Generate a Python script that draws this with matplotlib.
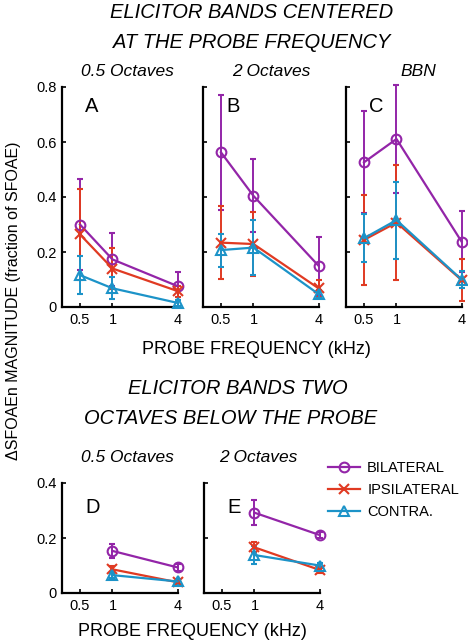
import matplotlib
matplotlib.use("Agg")
import matplotlib.pyplot as plt
from matplotlib.lines import Line2D

plt.rcParams['font.family'] = ['Liberation Sans', 'DejaVu Sans']

freqs = [0.5, 1, 4]
freqs_below = [1, 4]
series = ["BILATERAL", "IPSILATERAL", "CONTRA."]

# top row: elicitor bands centred at the probe frequency
a_bil = [0.30, 0.173, 0.076]
a_bil_err = [0.165, 0.095, 0.05]
a_ips = [0.264, 0.14, 0.058]
a_ips_err = [0.165, 0.076, 0.02]
a_con = [0.116, 0.068, 0.015]
a_con_err = [0.068, 0.04, 0.01]

b_bil = [0.5625, 0.404, 0.15]
b_bil_err = [0.21, 0.133, 0.106]
b_ips = [0.234, 0.229, 0.068]
b_ips_err = [0.133, 0.115, 0.03]
b_con = [0.207, 0.216, 0.047]
b_con_err = [0.06, 0.10, 0.015]

c_bil = [0.526, 0.611, 0.238]
c_bil_err = [0.185, 0.196, 0.112]
c_ips = [0.244, 0.307, 0.098]
c_ips_err = [0.165, 0.21, 0.077]
c_con = [0.25, 0.316, 0.10]
c_con_err = [0.088, 0.14, 0.03]

# bottom row: elicitor bands two octaves below the probe
d_bil = [0.153, 0.093]
d_bil_err = [0.027, 0.012]
d_ips = [0.086, 0.039]
d_ips_err = [0.012, 0.008]
d_con = [0.065, 0.042]
d_con_err = [0.01, 0.01]

e_bil = [0.292, 0.211]
e_bil_err = [0.046, 0.01]
e_ips = [0.166, 0.084]
e_ips_err = [0.018, 0.01]
e_con = [0.138, 0.10]
e_con_err = [0.032, 0.01]

colors = ['#9325a8', '#e03a22', '#1c93c8']
markers = ['o', 'x', '^']

fig = plt.figure(figsize=(4.68, 6.42), dpi=100)

W, H = 468, 642


def make_ax(left_px, top_px, h_px, ymax, ticks):
    ax = fig.add_axes([left_px / W, 1 - (top_px + h_px) / H, 116 / W, h_px / H])
    ax.set_xscale('log', base=2)
    ax.set_xlim(0.341, 4.04)
    ax.set_ylim(0, ymax)
    ax.set_xticks(freqs)
    ax.set_xticklabels(['0.5', '1', '4'])
    ax.minorticks_off()
    ax.set_yticks(ticks)
    for s in ['top', 'right']:
        ax.spines[s].set_visible(False)
    for s in ['left', 'bottom']:
        ax.spines[s].set_linewidth(1.6)
    ax.tick_params(direction='in', length=3, width=1.2, labelsize=10.5, pad=4)
    return ax


def draw(ax, x, vals, errs):
    for v, e, c, m in zip(vals, errs, colors, markers):
        ax.errorbar(x, v, yerr=e, color=c, marker=m, mfc='none', ms=7, mew=1.5,
                    lw=1.6, capsize=2.5, elinewidth=1.4, clip_on=False, zorder=3)


top_ticks = [0, 0.2, 0.4, 0.6, 0.8]
ax_a = make_ax(62, 87, 220, 0.8, top_ticks)
ax_b = make_ax(203, 87, 220, 0.8, top_ticks)
ax_c = make_ax(346, 87, 220, 0.8, top_ticks)
ax_a.set_yticklabels(['0', '0.2', '0.4', '0.6', '0.8'])
ax_b.set_yticklabels([])
ax_c.set_yticklabels([])

draw(ax_a, freqs, [a_bil, a_ips, a_con], [a_bil_err, a_ips_err, a_con_err])
draw(ax_b, freqs, [b_bil, b_ips, b_con], [b_bil_err, b_ips_err, b_con_err])
draw(ax_c, freqs, [c_bil, c_ips, c_con], [c_bil_err, c_ips_err, c_con_err])

bot_ticks = [0, 0.2, 0.4]
ax_d = make_ax(62, 483, 110, 0.4, bot_ticks)
ax_e = make_ax(204, 483, 110, 0.4, bot_ticks)
ax_d.set_yticklabels(['0', '0.2', '0.4'])
ax_e.set_yticklabels([])

draw(ax_d, freqs_below, [d_bil, d_ips, d_con], [d_bil_err, d_ips_err, d_con_err])
draw(ax_e, freqs_below, [e_bil, e_ips, e_con], [e_bil_err, e_ips_err, e_con_err])

for ax, letter in zip([ax_a, ax_b, ax_c, ax_d, ax_e], 'ABCDE'):
    ax.text(0.2, 0.955 if ax in (ax_a, ax_b, ax_c) else 0.86, letter,
            transform=ax.transAxes, fontsize=14.5, ha='left', va='top')

sub = dict(fontsize=12.5, style='italic', ha='center', va='center')
fig.text(127 / W, 1 - 71 / H, '0.5 Octaves', **sub)
fig.text(271 / W, 1 - 71 / H, '2 Octaves', **sub)
fig.text(418 / W, 1 - 71 / H, 'BBN', **sub)
fig.text(127 / W, 1 - 458 / H, '0.5 Octaves', **sub)
fig.text(258 / W, 1 - 458 / H, '2 Octaves', **sub)

head = dict(fontsize=14.5, style='italic', ha='center', va='center')
fig.text(252 / W, 1 - 13 / H, 'ELICITOR BANDS CENTERED', **head)
fig.text(252 / W, 1 - 42 / H, 'AT THE PROBE FREQUENCY', **head)
fig.text(238 / W, 1 - 389 / H, 'ELICITOR BANDS TWO', **head)
fig.text(231 / W, 1 - 418 / H, 'OCTAVES BELOW THE PROBE', **head)

fig.text(256 / W, 1 - 349 / H, 'PROBE FREQUENCY (kHz)', fontsize=13,
         ha='center', va='center')
fig.text(192 / W, 1 - 632 / H, 'PROBE FREQUENCY (kHz)', fontsize=13,
         ha='center', va='center')
fig.text(14 / W, 1 - 301 / H, 'ΔSFOAEn MAGNITUDE (fraction of SFOAE)',
         fontsize=11.5, rotation=90, ha='center', va='center')

handles = [Line2D([], [], color=c, marker=m, mfc='none', ms=7, mew=1.5, lw=1.6)
           for c, m in zip(colors, markers)]
fig.legend(handles, series, loc='upper left', bbox_to_anchor=(322 / W, 1 - 455 / H),
           frameon=False, fontsize=10.5, handlelength=2.2, handletextpad=0.5,
           labelspacing=0.55, borderaxespad=0)

fig.savefig('out.png', dpi=100)
